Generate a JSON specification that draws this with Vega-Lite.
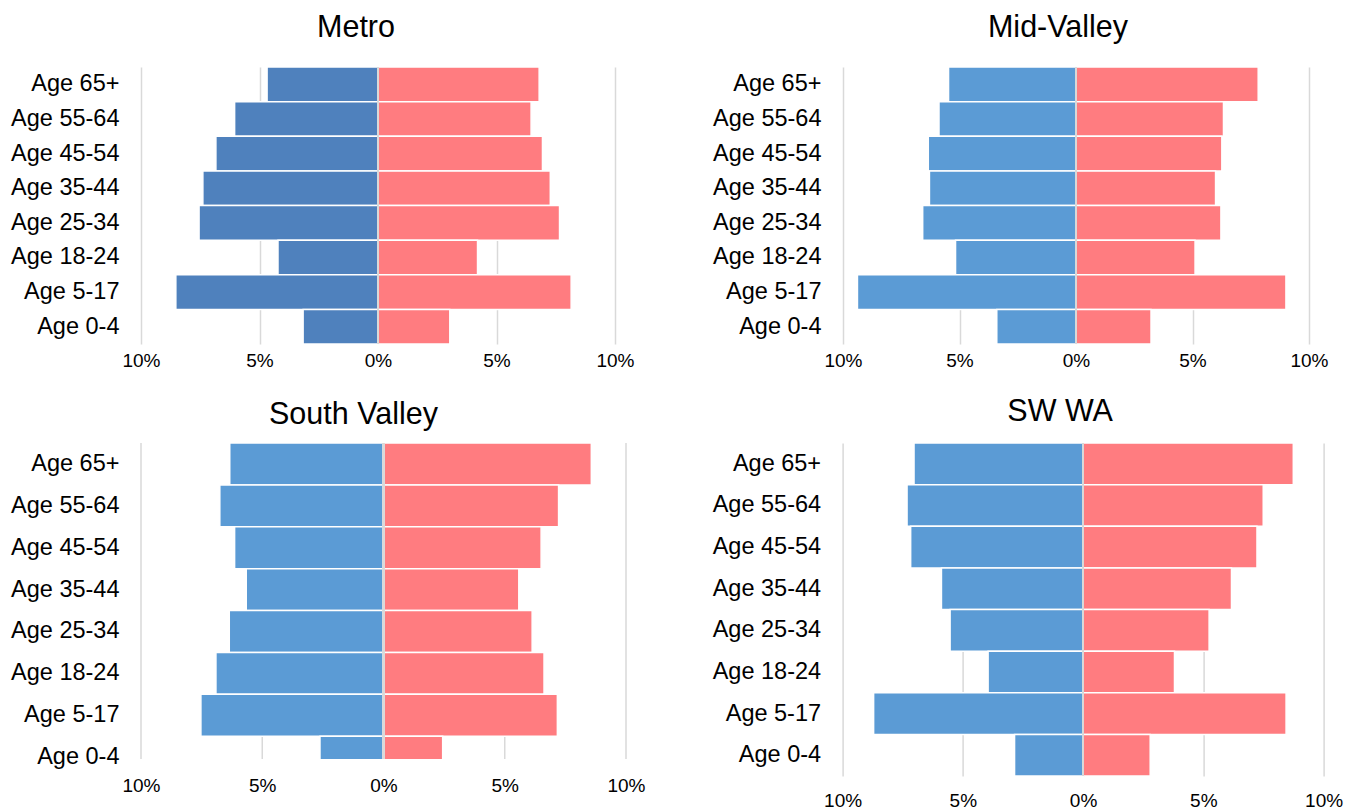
{
  "$schema": "https://vega.github.io/schema/vega-lite/v6.json",
  "padding": {"left": 10, "top": 12, "right": 5, "bottom": 5},
  "background": "white",
  "datasets": {
    "metro": [
      {"age": "Age 65+", "sex": "Male", "pct": -4.68}, {"age": "Age 65+", "sex": "Female", "pct": 6.80},
      {"age": "Age 55-64", "sex": "Male", "pct": -6.05}, {"age": "Age 55-64", "sex": "Female", "pct": 6.46},
      {"age": "Age 45-54", "sex": "Male", "pct": -6.84}, {"age": "Age 45-54", "sex": "Female", "pct": 6.94},
      {"age": "Age 35-44", "sex": "Male", "pct": -7.39}, {"age": "Age 35-44", "sex": "Female", "pct": 7.27},
      {"age": "Age 25-34", "sex": "Male", "pct": -7.55}, {"age": "Age 25-34", "sex": "Female", "pct": 7.66},
      {"age": "Age 18-24", "sex": "Male", "pct": -4.22}, {"age": "Age 18-24", "sex": "Female", "pct": 4.20},
      {"age": "Age 5-17", "sex": "Male", "pct": -8.53}, {"age": "Age 5-17", "sex": "Female", "pct": 8.15},
      {"age": "Age 0-4", "sex": "Male", "pct": -3.16}, {"age": "Age 0-4", "sex": "Female", "pct": 3.03}
    ],
    "midvalley": [
      {"age": "Age 65+", "sex": "Male", "pct": -5.47}, {"age": "Age 65+", "sex": "Female", "pct": 7.82},
      {"age": "Age 55-64", "sex": "Male", "pct": -5.88}, {"age": "Age 55-64", "sex": "Female", "pct": 6.33},
      {"age": "Age 45-54", "sex": "Male", "pct": -6.34}, {"age": "Age 45-54", "sex": "Female", "pct": 6.26},
      {"age": "Age 35-44", "sex": "Male", "pct": -6.29}, {"age": "Age 35-44", "sex": "Female", "pct": 5.99},
      {"age": "Age 25-34", "sex": "Male", "pct": -6.58}, {"age": "Age 25-34", "sex": "Female", "pct": 6.22},
      {"age": "Age 18-24", "sex": "Male", "pct": -5.17}, {"age": "Age 18-24", "sex": "Female", "pct": 5.11},
      {"age": "Age 5-17", "sex": "Male", "pct": -9.38}, {"age": "Age 5-17", "sex": "Female", "pct": 9.01},
      {"age": "Age 0-4", "sex": "Male", "pct": -3.40}, {"age": "Age 0-4", "sex": "Female", "pct": 3.22}
    ],
    "southvalley": [
      {"age": "Age 65+", "sex": "Male", "pct": -6.34}, {"age": "Age 65+", "sex": "Female", "pct": 8.57},
      {"age": "Age 55-64", "sex": "Male", "pct": -6.75}, {"age": "Age 55-64", "sex": "Female", "pct": 7.22},
      {"age": "Age 45-54", "sex": "Male", "pct": -6.14}, {"age": "Age 45-54", "sex": "Female", "pct": 6.50},
      {"age": "Age 35-44", "sex": "Male", "pct": -5.66}, {"age": "Age 35-44", "sex": "Female", "pct": 5.58},
      {"age": "Age 25-34", "sex": "Male", "pct": -6.36}, {"age": "Age 25-34", "sex": "Female", "pct": 6.13},
      {"age": "Age 18-24", "sex": "Male", "pct": -6.91}, {"age": "Age 18-24", "sex": "Female", "pct": 6.62},
      {"age": "Age 5-17", "sex": "Male", "pct": -7.53}, {"age": "Age 5-17", "sex": "Female", "pct": 7.17},
      {"age": "Age 0-4", "sex": "Male", "pct": -2.62}, {"age": "Age 0-4", "sex": "Female", "pct": 2.44}
    ],
    "swwa": [
      {"age": "Age 65+", "sex": "Male", "pct": -7.03}, {"age": "Age 65+", "sex": "Female", "pct": 8.74},
      {"age": "Age 55-64", "sex": "Male", "pct": -7.32}, {"age": "Age 55-64", "sex": "Female", "pct": 7.49},
      {"age": "Age 45-54", "sex": "Male", "pct": -7.17}, {"age": "Age 45-54", "sex": "Female", "pct": 7.23},
      {"age": "Age 35-44", "sex": "Male", "pct": -5.89}, {"age": "Age 35-44", "sex": "Female", "pct": 6.17},
      {"age": "Age 25-34", "sex": "Male", "pct": -5.53}, {"age": "Age 25-34", "sex": "Female", "pct": 5.24},
      {"age": "Age 18-24", "sex": "Male", "pct": -3.95}, {"age": "Age 18-24", "sex": "Female", "pct": 3.80},
      {"age": "Age 5-17", "sex": "Male", "pct": -8.71}, {"age": "Age 5-17", "sex": "Female", "pct": 8.44},
      {"age": "Age 0-4", "sex": "Male", "pct": -2.85}, {"age": "Age 0-4", "sex": "Female", "pct": 2.79}
    ]
  },
  "vconcat": [
    {
      "spacing": 77,
      "hconcat": [
        {
          "data": {"name": "metro"},
          "width": 474,
          "height": 277,
          "title": {"text": "Metro", "dx": -22, "offset": 23},
          "layer": [
            {
              "mark": {"type": "bar", "stroke": "white", "strokeWidth": 1.5},
              "encoding": {
                "y": {"field": "age", "type": "nominal", "sort": ["Age 65+", "Age 55-64", "Age 45-54", "Age 35-44", "Age 25-34", "Age 18-24", "Age 5-17", "Age 0-4"], "scale": {"paddingInner": 0, "paddingOuter": 0}, "axis": {"title": null}},
                "x": {"field": "pct", "type": "quantitative", "scale": {"domain": [-10, 10]}, "axis": {"title": null, "values": [-10, -5, 0, 5, 10], "labelExpr": "abs(datum.value) + '%'", "labelPadding": 7}},
                "color": {"condition": {"test": "datum.sex === 'Male'", "value": "#4f81bd"}, "value": "#ff7c80"}
              }
            },
            {"mark": {"type": "rule", "color": "#d9d9d9", "strokeWidth": 1.5}, "encoding": {"x": {"datum": 0}}}
          ]
        },
        {
          "data": {"name": "midvalley"},
          "width": 466,
          "height": 277,
          "title": {"text": "Mid-Valley", "dx": -18, "offset": 23},
          "layer": [
            {
              "mark": {"type": "bar", "stroke": "white", "strokeWidth": 1.5},
              "encoding": {
                "y": {"field": "age", "type": "nominal", "sort": ["Age 65+", "Age 55-64", "Age 45-54", "Age 35-44", "Age 25-34", "Age 18-24", "Age 5-17", "Age 0-4"], "scale": {"paddingInner": 0, "paddingOuter": 0}, "axis": {"title": null}},
                "x": {"field": "pct", "type": "quantitative", "scale": {"domain": [-10, 10]}, "axis": {"title": null, "values": [-10, -5, 0, 5, 10], "labelExpr": "abs(datum.value) + '%'", "labelPadding": 7}},
                "color": {"condition": {"test": "datum.sex === 'Male'", "value": "#5b9bd5"}, "value": "#ff7c80"}
              }
            },
            {"mark": {"type": "rule", "color": "#d9d9d9", "strokeWidth": 1.5}, "encoding": {"x": {"datum": 0}}}
          ]
        }
      ]
    },
    {
      "spacing": 65.6,
      "hconcat": [
        {
          "data": {"name": "southvalley"},
          "width": 485,
          "height": 316,
          "title": {"text": "South Valley", "dx": -30, "offset": 11.7},
          "layer": [
            {
              "data": {"values": [{"tick": -10}, {"tick": -5}, {"tick": 5}, {"tick": 10}]},
              "mark": {"type": "rule", "color": "#d9d9d9", "strokeWidth": 1.5},
              "encoding": {"x": {"field": "tick", "type": "quantitative"}}
            },
            {
              "mark": {"type": "bar", "stroke": "white", "strokeWidth": 1.5, "clip": true},
              "encoding": {
                "y": {"field": "age", "type": "nominal", "sort": ["Age 65+", "Age 55-64", "Age 45-54", "Age 35-44", "Age 25-34", "Age 18-24", "Age 5-17", "Age 0-4"], "scale": {"paddingInner": 0, "paddingOuter": 0, "range": [0, 335]}, "axis": {"title": null}},
                "x": {"field": "pct", "type": "quantitative", "scale": {"domain": [-10, 10]}, "axis": {"title": null, "grid": false, "values": [-10, -5, 0, 5, 10], "labelExpr": "abs(datum.value) + '%'", "labelPadding": 17}},
                "color": {"condition": {"test": "datum.sex === 'Male'", "value": "#5b9bd5"}, "value": "#ff7c80"}
              }
            },
            {"mark": {"type": "rule", "color": "#d9d9d9", "strokeWidth": 1.5}, "encoding": {"x": {"datum": 0}}}
          ]
        },
        {
          "data": {"name": "swwa"},
          "width": 481,
          "height": 333,
          "title": {"text": "SW WA", "dx": -23, "offset": 14.3},
          "layer": [
            {
              "mark": {"type": "bar", "stroke": "white", "strokeWidth": 1.5},
              "encoding": {
                "y": {"field": "age", "type": "nominal", "sort": ["Age 65+", "Age 55-64", "Age 45-54", "Age 35-44", "Age 25-34", "Age 18-24", "Age 5-17", "Age 0-4"], "scale": {"paddingInner": 0, "paddingOuter": 0}, "axis": {"title": null}},
                "x": {"field": "pct", "type": "quantitative", "scale": {"domain": [-10, 10]}, "axis": {"title": null, "values": [-10, -5, 0, 5, 10], "labelExpr": "abs(datum.value) + '%'", "labelPadding": 15}},
                "color": {"condition": {"test": "datum.sex === 'Male'", "value": "#5b9bd5"}, "value": "#ff7c80"}
              }
            },
            {"mark": {"type": "rule", "color": "#d9d9d9", "strokeWidth": 1.5}, "encoding": {"x": {"datum": 0}}}
          ]
        }
      ]
    }
  ],
  "spacing": 27,
  "config": {
    "font": "Liberation Sans",
    "view": {"stroke": null},
    "axis": {"domain": false, "ticks": false, "tickSize": 0, "labelColor": "black", "labelFont": "Liberation Sans"},
    "axisX": {"grid": true, "gridColor": "#d9d9d9", "gridWidth": 1.5, "labelFontSize": 19, "labelFlush": false, "labelOverlap": false, "labelAngle": 0},
    "axisY": {"grid": false, "labelFontSize": 23.5, "labelPadding": 22},
    "title": {"fontSize": 30.5, "fontWeight": "normal", "color": "black", "anchor": "middle", "frame": "group", "font": "Liberation Sans"}
  }
}
